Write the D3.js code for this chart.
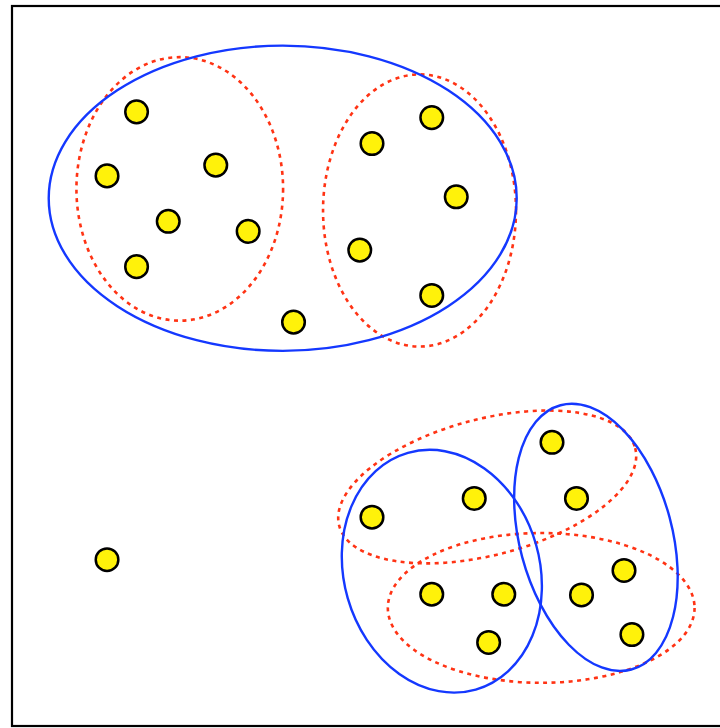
<!DOCTYPE html>
<html>
<head>
<meta charset="utf-8">
<script src="https://cdn.jsdelivr.net/npm/d3@7"></script>
<style>
  html, body { margin: 0; padding: 0; background: #fff; overflow: hidden; }
  svg { display: block; }
</style>
</head>
<body>
<svg id="chart"></svg>
<script>
// point positions, in plot units (0-100 on both axes, y up)
let pointX = [17.3, 13.2, 28.3, 21.7, 32.8, 17.3, 39.1, 50.0, 58.3, 61.7, 48.3, 58.3,
  13.2, 50.0, 64.2, 75.0, 78.4, 58.3, 68.3, 66.2, 79.1, 85.0, 86.1];
let pointY = [85.3, 76.4, 77.9, 70.1, 68.7, 63.8, 56.1, 80.9, 84.5, 73.5, 66.1, 59.8,
  23.1, 29.0, 31.6, 39.4, 31.6, 18.3, 18.3, 11.6, 18.2, 21.6, 12.7];

// cluster ellipses: centre, radii (plot units), tilt in degrees (counterclockwise)
let blueCx = [37.6, 59.7, 81.1];
let blueCy = [73.3, 21.5, 26.2];
let blueRx = [32.5, 13.6, 10.6];
let blueRy = [21.2, 17.1, 19.0];
let blueTilt = [0, 16, 15];

let redCx = [23.3, 56.6, 66.0, 73.5];
let redCy = [74.6, 71.6, 33.2, 16.4];
let redRx = [14.35, 13.4, 21.25, 21.3];
let redRy = [18.3, 18.9, 9.45, 10.4];
let redTilt = [0, 0, 14.7, 0];

let width = 720;
let height = 728;

let svg = d3.select("#chart")
  .attr("width", width)
  .attr("height", height)
  .attr("viewBox", `0 0 ${width} ${height}`);

let x = d3.scaleLinear().domain([0, 100]).range([12, 732]);
let y = d3.scaleLinear().domain([0, 100]).range([726, 6]);
let pxPerUnit = x(1) - x(0);

// frame (right side runs off the page)
svg.append("rect")
  .attr("x", x(0))
  .attr("y", y(100))
  .attr("width", x(100) - x(0))
  .attr("height", y(0) - y(100))
  .attr("fill", "none")
  .attr("stroke", "#000")
  .attr("stroke-width", 2.2);

function ellipses(cx, cy, rx, ry, tilt) {
  return cx.map(function (d, i) {
    return { cx: d, cy: cy[i], rx: rx[i], ry: ry[i], tilt: tilt[i] };
  });
}

let red = ellipses(redCx, redCy, redRx, redRy, redTilt);
let blue = ellipses(blueCx, blueCy, blueRx, blueRy, blueTilt);

function drawEllipses(data, color, dash, sw) {
  svg.append("g")
    .selectAll("ellipse")
    .data(data)
    .enter()
    .append("ellipse")
    .attr("cx", 0)
    .attr("cy", 0)
    .attr("rx", function (d) { return d.rx * pxPerUnit; })
    .attr("ry", function (d) { return d.ry * pxPerUnit; })
    .attr("transform", function (d) {
      return "translate(" + x(d.cx) + "," + y(d.cy) + ") rotate(" + (-d.tilt) + ")";
    })
    .attr("fill", "none")
    .attr("stroke", color)
    .attr("stroke-width", sw)
    .attr("stroke-dasharray", dash);
}

drawEllipses(red, "#ff3314", "4,4.5", 2.6);
drawEllipses(blue, "#1438ff", null, 2.4);

// points
svg.append("g")
  .selectAll("circle")
  .data(pointX)
  .enter()
  .append("circle")
  .attr("cx", function (d) { return x(d); })
  .attr("cy", function (d, i) { return y(pointY[i]); })
  .attr("r", 11.3)
  .attr("fill", "#fff20a")
  .attr("stroke", "#000")
  .attr("stroke-width", 2.5);
</script>
</body>
</html>
